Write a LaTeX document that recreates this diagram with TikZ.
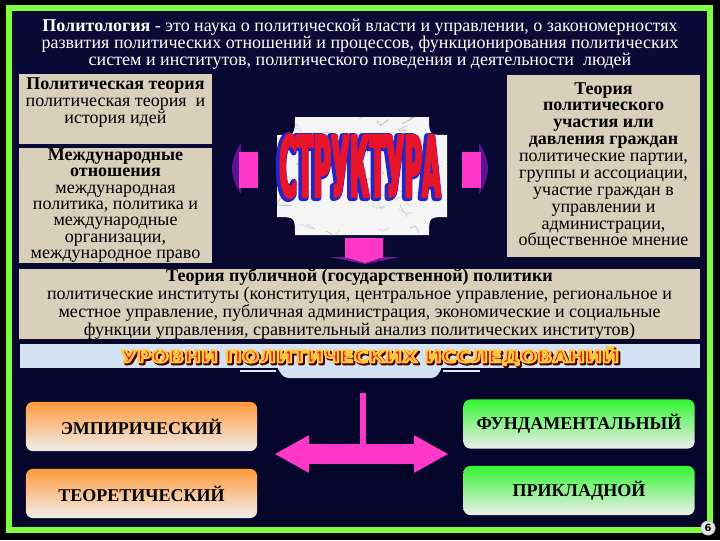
\documentclass[tikz,border=0pt]{standalone}
\usepackage{fontspec}
\setmainfont{Liberation Serif}
\newfontfamily\headfont{DejaVu Sans}
\newfontfamily\structfont{DejaVu Sans}[FakeStretch=0.284]
\usetikzlibrary{positioning,shapes.arrows}

\definecolor{frameGreen}{HTML}{80FF40}
\definecolor{navyTop}{HTML}{0A0A36}
\definecolor{navyMid}{HTML}{000072}
\definecolor{navyBot}{HTML}{05052A}
\definecolor{parch}{HTML}{D9D0BC}
\definecolor{pinkArrow}{HTML}{FF38C8}
\definecolor{paleBlue}{HTML}{D3E3F4}
\definecolor{orangeTop}{HTML}{FF9A3C}
\definecolor{greenTop}{HTML}{33F533}
\definecolor{boxWhite}{HTML}{F0EEEC}
\definecolor{strRed}{HTML}{E8142C}
\definecolor{strBlue}{HTML}{2626C8}
\definecolor{bannerGold}{HTML}{FFC83C}

\makeatletter
% contorno del testo (modo di resa 2 = riempimento e tratto)
\newcommand{\outlineon}[2]{\pgfsys@invoke{#1 RG #2 w 1 j 2 Tr}}
\newcommand{\outlineoff}{\pgfsys@invoke{0 Tr}}
\makeatother

\tikzset{
  parchbox/.style={fill=parch, inner sep=0pt, align=center, text=black},
  boxtext/.style={font=\fontsize{12.8}{12.2}\selectfont, align=center, inner sep=0pt, text=black},
  levelbox/.style={rounded corners=5pt, inner sep=0pt, minimum width=5.78cm, minimum height=1.23cm,
    font=\bfseries\fontsize{12.8}{12}\selectfont, text=black},
  empbox/.style={levelbox, top color=orangeTop, middle color=orangeTop!40!boxWhite, bottom color=boxWhite},
  fundbox/.style={levelbox, top color=greenTop, middle color=greenTop!30!boxWhite, bottom color=boxWhite},
}

\newcommand{\structword}{{\structfont\bfseries\fontsize{60.4}{60}\selectfont СТРУКТУРА}}
\newcommand{\levelsword}{\resizebox{354pt}{11pt}{\headfont\bfseries УРОВНИ ПОЛИТИЧЕСКИХ ИССЛЕДОВАНИЙ}}

\begin{document}
\begin{tikzpicture}[x=0.025cm,y=-0.025cm]
    % Fondo e cornice
    \useasboundingbox (0,0) rectangle (720,540);
    \fill[black] (0,0) rectangle (720,540);
    \shade[top color=navyTop, middle color=navyMid, bottom color=navyBot] (9,8) rectangle (710,530);
    \draw[frameGreen, line width=4.25pt] (9,8) rectangle (710,530);

    % Titolo
    \node[font=\fontsize{12.8}{12.2}\selectfont, text=white, align=center, inner sep=0pt] (title) at (360,44)
      {\textbf{Политология} - это наука о политической власти и управлении, о закономерностях\\
       развития политических отношений и процессов, функционирования политических\\
       систем и институтов, политического поведения и деятельности~ людей};

    % Riquadri a sinistra
    \node[parchbox, minimum width=4.825cm, minimum height=1.725cm] (theory_box) at (115.5,109) {};
    \node[boxtext, anchor=north] (theory_txt) at (115.5,77)
      {\textbf{Политическая теория}\\ политическая теория~ и\\ история идей};

    \node[parchbox, minimum width=4.825cm, minimum height=2.875cm, font=\fontsize{12.8}{11.6}\selectfont] (intl_box) at (115.5,205.5)
      {\textbf{Международные}\\ \textbf{отношения}\\ международная\\ политика, политика и\\ международные\\ организации,\\ международное право};

    % Riquadro a destra
    \node[parchbox, minimum width=4.825cm, minimum height=4.55cm, font=\fontsize{12.8}{12}\selectfont] (part_box) at (603.5,166)
      {\textbf{Теория}\\ \textbf{политического}\\ \textbf{участия или}\\ \textbf{давления граждан}\\ политические партии,\\ группы и ассоциации,\\ участие граждан в\\ управлении и\\ администрации,\\ общественное мнение};

    % Targa centrale
    \path[fill=gray!8] (295,117) -- (429,117) .. controls (429,135) .. (447,135) -- (447,217)
      .. controls (429,217) .. (429,235) -- (295,235) .. controls (295,217) .. (277,217)
      -- (277,135) .. controls (295,135) .. (295,117) -- cycle;
    \begin{scope}
      \clip (295,117) -- (429,117) .. controls (429,135) .. (447,135) -- (447,217)
        .. controls (429,217) .. (429,235) -- (295,235) .. controls (295,217) .. (277,217)
        -- (277,135) .. controls (295,135) .. (295,117) -- cycle;
      \pgfmathsetseed{11}
      \foreach \i in {1,...,60}{
        \pgfmathsetmacro{\xa}{278+rnd*168}
        \pgfmathsetmacro{\ya}{118+rnd*116}
        \pgfmathsetmacro{\xb}{\xa+rnd*24-12}
        \pgfmathsetmacro{\yb}{\ya+rnd*16-8}
        \pgfmathsetmacro{\xc}{\xa+rnd*24-12}
        \pgfmathsetmacro{\yc}{\ya+rnd*16-8}
        \pgfmathsetmacro{\gr}{25+rnd*25}
        \draw[gray!\gr, line width=0.6pt] (\xa,\ya) .. controls (\xb,\yb) .. (\xc,\yc);
      }
    \end{scope}

    \node[inner sep=0pt, text=strBlue] at ([xshift=-1.2pt, yshift=-0.8pt]360,166) {\outlineon{0.15 0.15 0.78}{4.2}\structword\outlineoff};
    \node[inner sep=0pt, text=strRed] (struct_lbl) at (360,166) {\outlineon{0.91 0.08 0.17}{1.3}\structword\outlineoff};

    % Frecce rosa attorno alla targa
    \fill[pinkArrow!35!navyMid] (241,143) .. controls (229,160) and (229,177) .. (241,194) -- cycle;
    \fill[pinkArrow] (239,152) rectangle (258,188);
    \fill[pinkArrow!35!navyMid] (479,143) .. controls (491,160) and (491,177) .. (479,194) -- cycle;
    \fill[pinkArrow] (462,152) rectangle (481,188);
    \fill[pinkArrow!45!navyMid] (330,257) -- (400,257) -- (365,264) -- cycle;
    \fill[pinkArrow] (345,238) rectangle (383,258);
    \fill[pinkArrow] (345,257) -- (383,257) -- (365,263) -- cycle;

    % Teoria della politica pubblica
    \node[parchbox, minimum width=17.025cm, minimum height=1.65cm, font=\fontsize{12.8}{10.4}\selectfont] (public_box) at (359.5,304)
      {\textbf{Теория публичной (государственной) политики}\\
       политические институты (конституция, центральное управление, региональное и\\
       местное управление, публичная администрация, экономические и социальные\\
       функции управления, сравнительный анализ политических институтов)};

    % Striscia dei livelli
    \fill[paleBlue, rounded corners=3pt] (276,366) -- (443,366) -- (436,378) -- (284,378) -- cycle;
    \draw[paleBlue!80, line width=0.8pt] (240,371) -- (276,371) (443,371) -- (480,371);
    \node[fill=paleBlue, minimum width=17cm, minimum height=0.6cm, inner sep=0pt] (levels_bar) at (360,356) {};
    \node[inner sep=0pt, text=black!70!red] at ([xshift=1.2pt, yshift=-1.2pt]370,356) {\outlineon{0.3 0 0}{1.5}\levelsword\outlineoff};
    \node[inner sep=0pt, text=strRed] (levels_lbl) at (370,356) {\outlineon{1 0.78 0.24}{1.2}\levelsword\outlineoff};

    % Livelli
    \node[empbox] (emp) at (141.5,426.5) {ЭМПИРИЧЕСКИЙ};
    \node[empbox] (theor) at (141.5,493.5) {ТЕОРЕТИЧЕСКИЙ};
    \node[fundbox] (fund) at (579,424) {ФУНДАМЕНТАЛЬНЫЙ};
    \node[fundbox] (appl) at (579,490.5) {ПРИКЛАДНОЙ};

    % Freccia doppia
    \node[double arrow, fill=pinkArrow, inner xsep=0pt, inner ysep=0.2375cm, minimum height=4.325cm, minimum width=0.925cm,
      double arrow head extend=0.225cm, double arrow tip angle=58] (lvl_arrow) at (361.5,454) {};
    \coordinate (lvl_top) at (363,393);
    \draw[pinkArrow, line width=4.25pt] (lvl_top) -- (lvl_top |- lvl_arrow.center);

    % Numero pagina
    \node[circle, fill=gray!20, draw=gray!60, inner sep=0pt, minimum size=0.36cm,
      font=\headfont\bfseries\fontsize{7}{7}\selectfont] (page_no) at (708,528) {6};
\end{tikzpicture}
\end{document}
